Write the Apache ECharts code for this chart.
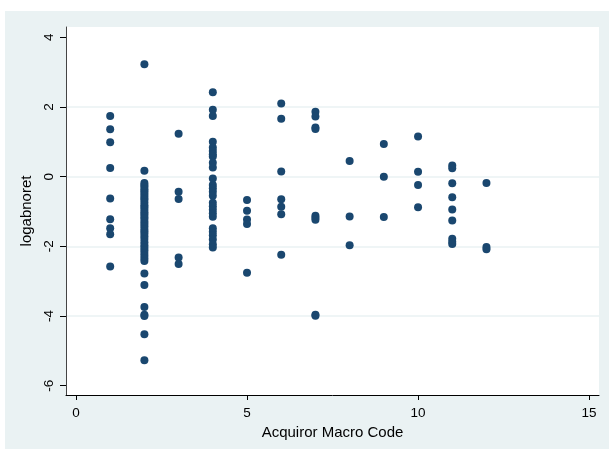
<!DOCTYPE html>
<html>
<head>
<meta charset="utf-8">
<script src="https://cdn.jsdelivr.net/npm/echarts@6/dist/echarts.min.js"></script>
<style>
  html, body { margin: 0; padding: 0; background: #ffffff; }
  #chart { position: absolute; left: 5px; top: 11px; width: 604px; height: 438px; }
</style>
</head>
<body>
<div id="chart"></div>
<script>
// Acquiror Macro Code -> logabnoret values
const code1 = [1.74, 1.36, 0.99, 0.25, -0.63, -1.22, -1.48, -1.65, -2.58];
const code2 = [3.23, 0.17, -0.18, -0.24, -0.29, -0.36, -0.42, -0.48, -0.55, -0.61, -0.66, -0.74,
               -0.82, -0.88, -0.95, -1.02, -1.08, -1.15, -1.21, -1.29, -1.35, -1.42, -1.50, -1.57,
               -1.63, -1.71, -1.79, -1.88, -1.97, -2.04, -2.11, -2.19, -2.27, -2.35, -2.42,
               -2.78, -3.11, -3.74, -3.96, -4.00, -4.52, -5.27];
const code3 = [1.23, -0.43, -0.64, -2.32, -2.51];
const code4 = [2.42, 1.92, 1.74, 1.00, 0.84, 0.74, 0.64, 0.58, 0.40, 0.26, -0.05, -0.24, -0.33,
               -0.43, -0.55, -0.75, -0.85, -0.95, -1.05, -1.15, -1.48, -1.58, -1.68, -1.80, -1.94, -2.03];
const code5 = [-0.67, -0.98, -1.23, -1.36, -2.76];
const code6 = [2.10, 1.66, 0.15, -0.65, -0.86, -1.08, -2.24];
const code7 = [1.86, 1.73, 1.41, 1.37, -1.12, -1.18, -1.24, -3.96, -3.99];
const code8 = [0.45, -1.14, -1.97];
const code9 = [0.94, 0.00, -1.16];
const code10 = [1.15, 0.14, -0.24, -0.88];
const code11 = [0.32, 0.24, -0.19, -0.59, -0.94, -1.26, -1.78, -1.87, -1.93];
const code12 = [-0.18, -2.02, -2.08];

const macroCodes = [1, 2, 3, 4, 5, 6, 7, 8, 9, 10, 11, 12];
const valuesByCode = [code1, code2, code3, code4, code5, code6, code7, code8, code9, code10, code11, code12];

const xTicks = [0, 5, 10, 15];
const yTicks = [-6, -4, -2, 0, 2, 4];

const points = [];
macroCodes.forEach((c, i) => valuesByCode[i].forEach(v => points.push([c, v])));

const chart = echarts.init(document.getElementById('chart'), null, { renderer: 'canvas' });
const font = 'Liberation Sans, Arial, sans-serif';
chart.setOption({
  backgroundColor: '#eaf2f3',
  animation: false,
  grid: {
    left: 61, right: 10, top: 16, bottom: 54,
    show: true, backgroundColor: '#ffffff', borderWidth: 0
  },
  xAxis: {
    type: 'value',
    min: -0.292, max: 15.29,
    name: 'Acquiror Macro Code',
    nameLocation: 'middle',
    nameGap: 27,
    nameTextStyle: { fontFamily: font, fontSize: 15, color: '#000' },
    axisLine: { show: true, onZero: false, lineStyle: { color: '#000', width: 1 } },
    axisTick: { show: true, length: 5, inside: false, customValues: xTicks, lineStyle: { color: '#000' } },
    axisLabel: { customValues: xTicks, margin: 11, fontFamily: font, fontSize: 13.5, color: '#000' },
    splitLine: { show: false }
  },
  yAxis: {
    type: 'value',
    min: -6.267, max: 4.296,
    name: 'logabnoret',
    nameLocation: 'middle',
    nameRotate: 90,
    nameGap: 29,
    nameTextStyle: { fontFamily: font, fontSize: 15, color: '#000' },
    axisLine: { show: true, onZero: false, lineStyle: { color: '#444', width: 1 } },
    axisTick: { show: true, length: 6, inside: false, customValues: yTicks, lineStyle: { color: '#000' } },
    axisLabel: { customValues: yTicks, rotate: 90, margin: 10, fontFamily: font, fontSize: 13.5, color: '#000' },
    splitLine: { show: true, showMinLine: false, showMaxLine: false, lineStyle: { color: '#eaf2f3', width: 1.5 } }
  },
  series: [{
    type: 'scatter',
    data: points,
    symbol: 'circle',
    symbolSize: 8,
    itemStyle: { color: '#1a476f', opacity: 1 }
  }]
});
</script>
</body>
</html>
